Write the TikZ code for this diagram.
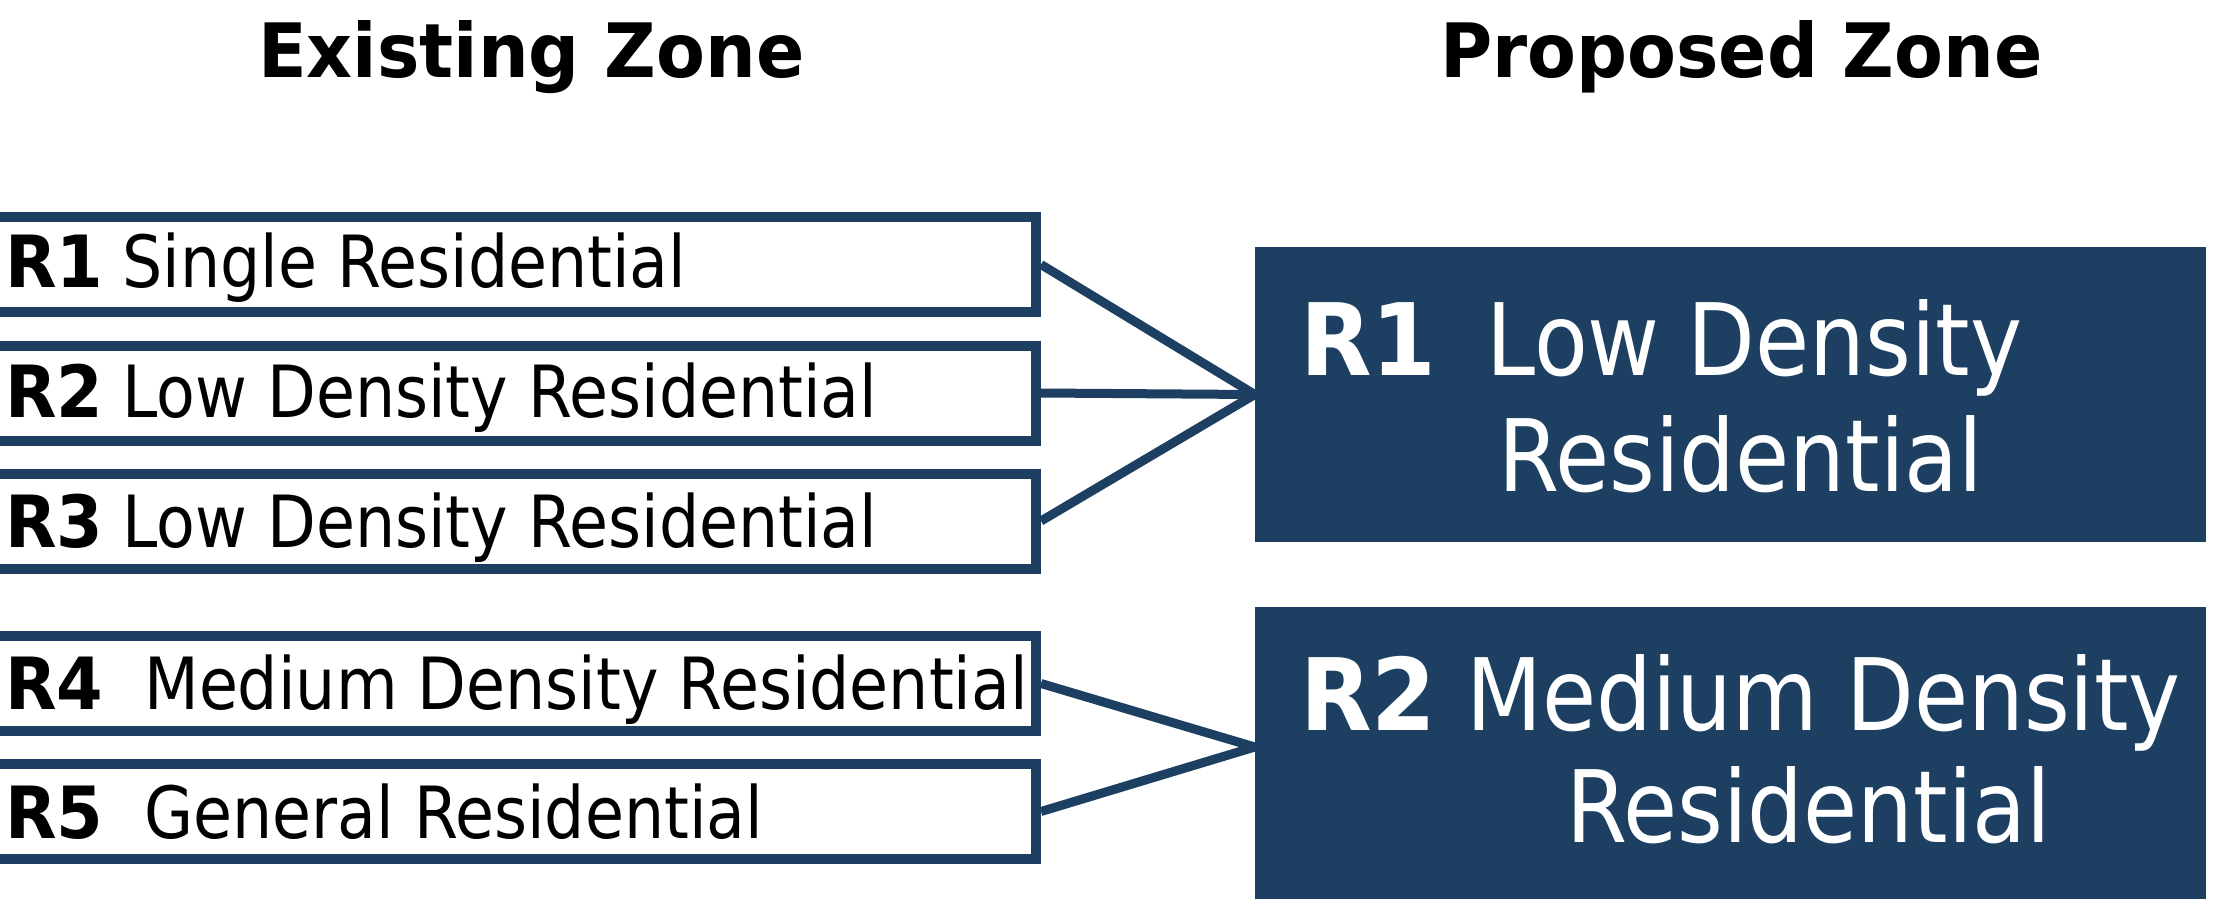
\documentclass[tikz,border=0pt]{standalone}
\usepackage{fontspec}
\newfontfamily\bodyfont[FakeStretch=0.88, BoldFeatures={FakeStretch=0.93}]{DejaVu Sans}
\newfontfamily\headfont[FakeStretch=0.95]{DejaVu Sans}
\definecolor{zoneblue}{RGB}{28,63,98}
\tikzset{
  oldzone/.style={draw=zoneblue, line width=10pt, fill=white, minimum width=1056pt,
    minimum height=95pt, inner sep=0pt},
  newzone/.style={fill=zoneblue, minimum width=951pt, inner sep=0pt},
  oldtext/.style={anchor=base west, inner sep=0pt, font=\bodyfont\fontsize{72}{86}\selectfont},
  newtext/.style={anchor=base west, inner sep=0pt, text=white,
    font=\bodyfont\fontsize{100}{120}\selectfont},
  heading/.style={anchor=base west, inner sep=0pt, font=\headfont\bfseries\fontsize{75}{90}\selectfont},
  link/.style={draw=zoneblue, line width=9pt}
}
\begin{document}
\begin{tikzpicture}[x=1pt,y=-1pt]
\clip (0,0) rectangle (2214,898);
\fill[white] (0,0) rectangle (2214,898);

% column headings
\node[heading] (hOld) at (258,77) {Existing Zone};
\node[heading] (hNew) at (1440,77) {Proposed Zone};

% existing zones (left column, open at the page edge)
\node[oldzone] (e1) at (508,264.5) {};
\node[oldzone] (e2) at (508,393) {};
\node[oldzone] (e3) at (508,521) {};
\node[oldzone] (e4) at (508,683.5) {};
\node[oldzone] (e5) at (508,811.5) {};

\node[oldtext] (t1) at (5,287) {\textbf{R1}\hspace{19pt}Single Residential};
\node[oldtext] (t2) at (5,417) {\textbf{R2}\hspace{19pt}Low Density Residential};
\node[oldtext] (t3) at (5,547) {\textbf{R3}\hspace{19pt}Low Density Residential};
\node[oldtext] (t4) at (5,709) {\textbf{R4}\hspace{41pt}Medium Density Residential};
\node[oldtext] (t5) at (5,838) {\textbf{R5}\hspace{41pt}General Residential};

% proposed zones (right column)
\node[newzone, minimum height=295pt] (pA) at (1730.5,394.5) {};
\node[newzone, minimum height=298pt] (pB) at (1730.5,756) {};

\node[newtext] (a1) at (1300,375) {\textbf{R1}\hspace{50pt}Low Density};
\node[newtext] (b1) at (1300,730) {\textbf{R2}\hspace{30pt}Medium Density};
\node[newtext] (a2) at (1498,491) {Residential};
\node[newtext] (b2) at (1566,842) {Residential};

% where the lower links meet the second proposed zone
\coordinate (jB) at ([yshift=9pt]pB.west);

% links from existing to proposed zones
\draw[link] (e1.east) -- (pA.west);
\draw[link] (e2.east) -- (pA.west);
\draw[link] (e3.east) -- (pA.west);
\draw[link] (e4.east) -- (jB);
\draw[link] (e5.east) -- (jB);
\end{tikzpicture}
\end{document}
